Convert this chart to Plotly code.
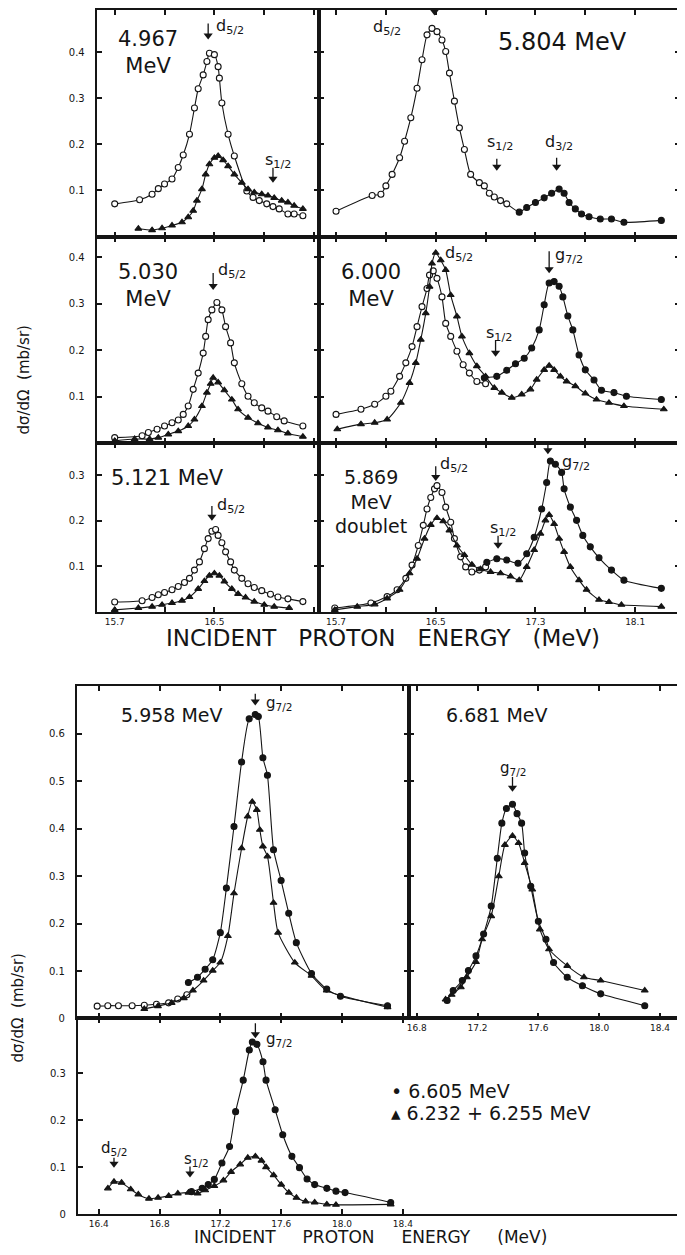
import plotly.graph_objects as go

OFF = 8                      # default page margin around the plot div
W, H = 685 - OFF, 1255 - OFF
INK = "#151515"
FONT = "DejaVu Sans"

# ---------------- data: incident proton energy (MeV), dsigma/dOmega (mb/sr) ----------------
# 4.967 MeV
a_open_x = [15.70, 15.90, 16.00, 16.05, 16.10, 16.16, 16.21, 16.25, 16.30, 16.34, 16.37, 16.41, 16.44, 16.46,
            16.50, 16.53, 16.54, 16.56, 16.61, 16.66, 16.76, 16.81, 16.86, 16.92, 16.97, 17.02, 17.09, 17.14, 17.21]
a_open_y = [0.071, 0.080, 0.092, 0.104, 0.114, 0.125, 0.150, 0.177, 0.222, 0.279, 0.321, 0.351, 0.380, 0.398,
            0.395, 0.369, 0.344, 0.290, 0.222, 0.175, 0.099, 0.085, 0.078, 0.071, 0.065, 0.060, 0.049, 0.049, 0.045]
a_tri_x = [15.89, 16.00, 16.08, 16.16, 16.24, 16.29, 16.33, 16.36, 16.40, 16.43, 16.46, 16.50, 16.53, 16.57,
           16.61, 16.66, 16.72, 16.77, 16.82, 16.88, 16.93, 16.98, 17.04, 17.09, 17.14, 17.21]
a_tri_y = [0.017, 0.014, 0.018, 0.024, 0.031, 0.042, 0.056, 0.078, 0.103, 0.135, 0.157, 0.171, 0.175, 0.166,
           0.153, 0.135, 0.117, 0.103, 0.096, 0.092, 0.089, 0.084, 0.078, 0.074, 0.067, 0.060]

# 5.804 MeV
b_open_x = [15.70, 15.99, 16.06, 16.10, 16.15, 16.21, 16.25, 16.30, 16.35, 16.39, 16.43, 16.47, 16.51, 16.55,
            16.58, 16.61, 16.65, 16.69, 16.73, 16.78, 16.85, 16.89, 16.93, 16.97, 17.02, 17.07]
b_open_y = [0.055, 0.089, 0.092, 0.110, 0.135, 0.171, 0.207, 0.258, 0.322, 0.384, 0.438, 0.452, 0.445, 0.427,
            0.402, 0.355, 0.294, 0.236, 0.189, 0.135, 0.117, 0.110, 0.094, 0.086, 0.078, 0.071]
b_fill_x = [17.17, 17.23, 17.30, 17.37, 17.43, 17.49, 17.53, 17.57, 17.62, 17.67, 17.73, 17.82, 17.91, 18.01, 18.31]
b_fill_y = [0.053, 0.063, 0.074, 0.084, 0.094, 0.103, 0.094, 0.074, 0.060, 0.049, 0.043, 0.038, 0.038, 0.031, 0.035]

# 5.030 MeV
c_open_x = [15.70, 15.92, 15.97, 16.04, 16.10, 16.16, 16.21, 16.25, 16.29, 16.33, 16.37, 16.41, 16.43, 16.45,
            16.48, 16.52, 16.56, 16.59, 16.63, 16.66, 16.72, 16.77, 16.82, 16.88, 16.93, 17.00, 17.06, 17.21]
c_open_y = [0.012, 0.016, 0.023, 0.030, 0.037, 0.044, 0.050, 0.062, 0.080, 0.116, 0.151, 0.194, 0.230, 0.266,
            0.287, 0.303, 0.287, 0.251, 0.216, 0.173, 0.128, 0.101, 0.087, 0.076, 0.069, 0.057, 0.048, 0.037]
c_tri_x = [15.70, 15.86, 15.98, 16.05, 16.13, 16.21, 16.29, 16.34, 16.40, 16.44, 16.47, 16.49, 16.53, 16.58,
           16.64, 16.69, 16.77, 16.85, 16.93, 17.01, 17.09, 17.21]
c_tri_y = [0.005, 0.009, 0.009, 0.012, 0.019, 0.026, 0.037, 0.051, 0.080, 0.109, 0.128, 0.141, 0.131, 0.114,
           0.094, 0.073, 0.055, 0.043, 0.034, 0.028, 0.021, 0.014]

# 6.000 MeV
d_open_x = [15.70, 15.90, 16.01, 16.10, 16.14, 16.21, 16.26, 16.31, 16.35, 16.39, 16.43, 16.45, 16.48, 16.51,
            16.55, 16.58, 16.62, 16.67, 16.72, 16.77, 16.83, 16.90]
d_open_y = [0.062, 0.073, 0.084, 0.101, 0.112, 0.144, 0.173, 0.208, 0.251, 0.294, 0.333, 0.362, 0.371, 0.355,
            0.315, 0.258, 0.230, 0.198, 0.169, 0.151, 0.133, 0.128]
d_tri_x = [15.71, 15.90, 16.01, 16.11, 16.22, 16.29, 16.34, 16.38, 16.42, 16.45, 16.47, 16.50, 16.54, 16.58,
           16.62, 16.67, 16.71, 16.77, 16.83, 16.90, 16.97, 17.03, 17.11, 17.19, 17.26, 17.31, 17.37, 17.41,
           17.45, 17.50, 17.55, 17.62, 17.70, 17.79, 17.89, 18.01, 18.33]
d_tri_y = [0.030, 0.041, 0.044, 0.051, 0.087, 0.130, 0.173, 0.223, 0.280, 0.337, 0.387, 0.410, 0.394, 0.373,
           0.319, 0.273, 0.230, 0.194, 0.166, 0.144, 0.119, 0.109, 0.098, 0.105, 0.116, 0.137, 0.158, 0.167,
           0.158, 0.144, 0.133, 0.123, 0.107, 0.094, 0.087, 0.080, 0.073]
d_fill_x = [16.89, 16.99, 17.07, 17.14, 17.21, 17.27, 17.33, 17.37, 17.41, 17.45, 17.49, 17.52, 17.56, 17.60,
            17.65, 17.70, 17.77, 17.83, 17.93, 18.03, 18.31]
d_fill_y = [0.141, 0.144, 0.157, 0.171, 0.183, 0.205, 0.244, 0.298, 0.345, 0.348, 0.338, 0.315, 0.274, 0.244,
            0.190, 0.158, 0.136, 0.114, 0.109, 0.101, 0.094]

# 5.121 MeV
e_open_x = [15.70, 15.92, 16.00, 16.05, 16.10, 16.16, 16.21, 16.26, 16.30, 16.34, 16.38, 16.42, 16.45, 16.48,
            16.51, 16.53, 16.56, 16.59, 16.63, 16.66, 16.72, 16.77, 16.82, 16.88, 16.95, 17.01, 17.09, 17.21]
e_open_y = [0.022, 0.025, 0.032, 0.038, 0.043, 0.049, 0.056, 0.065, 0.074, 0.092, 0.110, 0.139, 0.161, 0.177,
            0.181, 0.168, 0.152, 0.132, 0.110, 0.092, 0.074, 0.062, 0.054, 0.047, 0.039, 0.033, 0.029, 0.023]
e_tri_x = [15.70, 15.89, 16.00, 16.08, 16.16, 16.24, 16.30, 16.37, 16.42, 16.46, 16.50, 16.54, 16.58, 16.64,
           16.69, 16.75, 16.82, 16.90, 16.98, 17.10]
e_tri_y = [0.005, 0.009, 0.012, 0.016, 0.020, 0.025, 0.033, 0.051, 0.068, 0.080, 0.085, 0.080, 0.067, 0.051,
           0.040, 0.032, 0.023, 0.016, 0.012, 0.009]

# 5.869 MeV doublet
f_open_x = [15.69, 15.98, 16.11, 16.19, 16.26, 16.31, 16.36, 16.40, 16.43, 16.46, 16.49, 16.51, 16.55, 16.58,
            16.62, 16.65, 16.70, 16.74, 16.79, 16.85, 16.90]
f_open_y = [0.009, 0.020, 0.034, 0.049, 0.074, 0.103, 0.146, 0.190, 0.226, 0.251, 0.270, 0.277, 0.262, 0.230,
            0.197, 0.161, 0.121, 0.099, 0.088, 0.092, 0.099]
f_tri_x = [15.69, 15.87, 16.01, 16.11, 16.21, 16.29, 16.35, 16.41, 16.46, 16.51, 16.56, 16.61, 16.67, 16.73,
           16.79, 16.86, 16.94, 17.02, 17.10, 17.17, 17.23, 17.29, 17.34, 17.38, 17.41, 17.45, 17.49, 17.53,
           17.58, 17.65, 17.71, 17.81, 17.89, 17.99, 18.31]
f_tri_y = [0.005, 0.012, 0.017, 0.030, 0.049, 0.085, 0.117, 0.161, 0.191, 0.206, 0.199, 0.179, 0.146, 0.125,
           0.104, 0.094, 0.088, 0.085, 0.078, 0.070, 0.099, 0.136, 0.172, 0.201, 0.213, 0.193, 0.161, 0.132,
           0.099, 0.070, 0.049, 0.027, 0.022, 0.016, 0.012]
f_fill_x = [16.91, 16.99, 17.07, 17.16, 17.23, 17.29, 17.35, 17.39, 17.42, 17.46, 17.51, 17.53, 17.58, 17.63,
            17.68, 17.74, 17.81, 17.91, 18.01, 18.31]
f_fill_y = [0.109, 0.117, 0.114, 0.107, 0.128, 0.164, 0.226, 0.284, 0.331, 0.324, 0.306, 0.270, 0.230, 0.201,
            0.168, 0.143, 0.119, 0.092, 0.070, 0.052]

# 5.958 MeV
g_open_x = [16.39, 16.46, 16.53, 16.62, 16.70, 16.78, 16.86, 16.92, 16.98]
g_open_y = [0.026, 0.027, 0.027, 0.027, 0.028, 0.030, 0.033, 0.041, 0.050]
g_fill_x = [16.99, 17.05, 17.10, 17.15, 17.20, 17.24, 17.29, 17.34, 17.39, 17.43, 17.45, 17.48, 17.51, 17.55,
            17.60, 17.65, 17.70, 17.80, 17.90, 17.99, 18.30]
g_fill_y = [0.076, 0.087, 0.104, 0.124, 0.181, 0.275, 0.405, 0.541, 0.632, 0.641, 0.637, 0.550, 0.513, 0.356,
            0.291, 0.222, 0.160, 0.095, 0.062, 0.047, 0.027]
g_tri_x = [16.70, 16.79, 16.88, 16.96, 17.02, 17.09, 17.15, 17.20, 17.25, 17.29, 17.34, 17.38, 17.41, 17.44,
           17.46, 17.48, 17.51, 17.55, 17.58, 17.69, 17.80, 17.90, 18.30]
g_tri_y = [0.020, 0.026, 0.033, 0.043, 0.059, 0.080, 0.101, 0.118, 0.174, 0.264, 0.359, 0.426, 0.457, 0.440,
           0.398, 0.363, 0.342, 0.244, 0.181, 0.118, 0.090, 0.059, 0.024]

# 6.681 MeV
h_fill_x = [17.00, 17.04, 17.10, 17.14, 17.19, 17.24, 17.29, 17.33, 17.36, 17.39, 17.43, 17.46, 17.49, 17.51,
            17.55, 17.60, 17.65, 17.70, 17.79, 17.89, 18.01, 18.30]
h_fill_y = [0.038, 0.059, 0.080, 0.101, 0.132, 0.178, 0.237, 0.338, 0.412, 0.443, 0.452, 0.432, 0.412, 0.349,
            0.279, 0.205, 0.167, 0.118, 0.087, 0.069, 0.052, 0.027]
h_tri_x = [16.99, 17.03, 17.09, 17.13, 17.19, 17.23, 17.29, 17.34, 17.38, 17.43, 17.47, 17.51, 17.56, 17.61,
           17.67, 17.79, 17.90, 18.01, 18.30]
h_tri_y = [0.040, 0.050, 0.066, 0.087, 0.119, 0.167, 0.216, 0.300, 0.366, 0.385, 0.370, 0.328, 0.272, 0.188,
           0.146, 0.111, 0.087, 0.080, 0.059]

# 6.605 MeV and 6.232 + 6.255 MeV
i_fill_x = [17.01, 17.08, 17.12, 17.16, 17.21, 17.26, 17.30, 17.35, 17.39, 17.41, 17.44, 17.48, 17.50, 17.56,
            17.61, 17.67, 17.72, 17.77, 17.82, 17.90, 17.96, 18.02, 18.32]
i_fill_y = [0.048, 0.055, 0.063, 0.074, 0.109, 0.144, 0.218, 0.285, 0.349, 0.366, 0.361, 0.324, 0.285, 0.222,
            0.169, 0.123, 0.099, 0.075, 0.063, 0.055, 0.049, 0.046, 0.025]
i_tri_x = [16.46, 16.50, 16.55, 16.61, 16.66, 16.73, 16.79, 16.86, 16.92, 16.99, 17.05, 17.10, 17.16, 17.22,
           17.27, 17.33, 17.38, 17.43, 17.47, 17.50, 17.55, 17.60, 17.65, 17.70, 17.76, 17.82, 17.90, 17.96, 18.32]
i_tri_y = [0.055, 0.069, 0.067, 0.053, 0.042, 0.033, 0.035, 0.039, 0.044, 0.046, 0.044, 0.051, 0.060, 0.072,
           0.090, 0.106, 0.120, 0.123, 0.114, 0.100, 0.083, 0.063, 0.046, 0.035, 0.027, 0.025, 0.021, 0.020, 0.021]

# resonance markers: (panel, label, energy, tip height)
resonances = [
    (1, "d<sub>5/2</sub>", 16.45, 0.428), (1, "s<sub>1/2</sub>", 16.97, 0.117),
    (2, "d<sub>5/2</sub>", 16.49, 0.480), (2, "s<sub>1/2</sub>", 16.99, 0.143), (2, "d<sub>3/2</sub>", 17.47, 0.143),
    (3, "d<sub>5/2</sub>", 16.49, 0.330),
    (4, "d<sub>5/2</sub>", 16.48, 0.437), (4, "g<sub>7/2</sub>", 17.41, 0.366), (4, "s<sub>1/2</sub>", 16.98, 0.186),
    (5, "d<sub>5/2</sub>", 16.48, 0.200),
    (6, "d<sub>5/2</sub>", 16.50, 0.287), (6, "g<sub>7/2</sub>", 17.40, 0.346), (6, "s<sub>1/2</sub>", 17.00, 0.139),
    (7, "g<sub>7/2</sub>", 17.43, 0.660),
    (8, "g<sub>7/2</sub>", 17.43, 0.478),
    (9, "d<sub>5/2</sub>", 16.50, 0.099), (9, "s<sub>1/2</sub>", 17.00, 0.078), (9, "g<sub>7/2</sub>", 17.43, 0.374),
]
# arrow length and label offset (px) for each resonance marker, same order
res_style = [
    (16, 6, 13), (15, -10, 22),
    (7, -63, -12), (12, -12, 28), (13, -14, 28),
    (17, 3, 19),
    (22, 10, -13), (22, 4, 18), (17, -12, 23),
    (15, 3, 15),
    (15, 2, 17), (25, 12, -8), (13, -10, 20),
    (12, 9, 2),
    (15, -14, 23),
    (10, -15, 19), (11, -8, 18), (15, 9, -1),
]

top_ticks_l = [15.7, 16.1, 16.5, 16.9, 17.3]
top_ticks_r = [15.7, 16.1, 16.5, 16.9, 17.3, 17.7, 18.1]
bot_ticks = [16.4, 16.8, 17.2, 17.6, 18.0, 18.4]


def px_x(a, b):
    return [(a - OFF) / W, (b - OFF) / W]


def px_y(top, bottom):
    return [1 - (bottom - OFF) / H, 1 - (top - OFF) / H]


def sid(i):
    return "" if i == 1 else str(i)


# panel frames (page px): x px, y px, x range, y range, labelled x ticks, unlabelled x ticks, y ticks, y labels
panels = {
    1: ((95, 318), (8, 236), [15.556, 17.34], [0, 0.492], [], top_ticks_l, [0.1, 0.2, 0.3, 0.4], True),
    2: ((318, 680), (8, 236), [15.564, 18.46], [0, 0.492], [], top_ticks_r, [0.1, 0.2, 0.3, 0.4], False),
    3: ((95, 318), (236, 444), [15.556, 17.34], [0, 0.445], [], top_ticks_l, [0.1, 0.2, 0.3, 0.4], True),
    4: ((318, 680), (236, 444), [15.564, 18.46], [0, 0.445], [], top_ticks_r, [0.1, 0.2, 0.3, 0.4], False),
    5: ((95, 318), (444, 614), [15.556, 17.34], [0, 0.370], [15.7, 16.5], [16.1, 16.9, 17.3],
        [0.1, 0.2, 0.3], True),
    6: ((318, 680), (444, 614), [15.564, 18.46], [0, 0.370], [15.7, 16.5, 17.3, 18.1], [16.1, 16.9, 17.7],
        [0.1, 0.2, 0.3], False),
    7: ((75, 408), (688, 1023), [16.256, 18.44], [0, 0.702], [], bot_ticks,
        [0, 0.1, 0.2, 0.3, 0.4, 0.5, 0.6], True),
    8: ((408, 682), (688, 1023), [16.748, 18.545], [0, 0.702], bot_ticks[1:], [],
        [0.1, 0.2, 0.3, 0.4, 0.5, 0.6], False),
    9: ((76, 682), (1023, 1220), [16.262, 20.236], [0, 0.416], bot_ticks, [], [0, 0.1, 0.2, 0.3], True),
}

fig = go.Figure()


def add_series(p, x, y, kind, lines=True):
    face = {"open": "white", "fill": INK, "tri": INK}[kind]
    symbol = "triangle-up" if kind == "tri" else "circle"
    fig.add_trace(go.Scatter(
        x=x, y=y, xaxis="x" + sid(p), yaxis="y" + sid(p),
        mode="lines+markers" if lines else "markers",
        line={"color": INK, "width": 1.1, "shape": "spline", "smoothing": 0.6},
        marker={"symbol": symbol, "size": 6, "color": face, "line": {"color": INK, "width": 1.1}},
        showlegend=False, hoverinfo="skip",
    ))


# 5.804: one continuous line through both sets
fig.add_trace(go.Scatter(x=b_open_x + b_fill_x, y=b_open_y + b_fill_y, xaxis="x2", yaxis="y2", mode="lines",
                         line={"color": INK, "width": 1.1, "shape": "spline", "smoothing": 0.6},
                         showlegend=False, hoverinfo="skip"))

add_series(1, a_open_x, a_open_y, "open")
add_series(1, a_tri_x, a_tri_y, "tri")
add_series(2, b_open_x, b_open_y, "open", lines=False)
add_series(2, b_fill_x, b_fill_y, "fill", lines=False)
add_series(3, c_open_x, c_open_y, "open")
add_series(3, c_tri_x, c_tri_y, "tri")
add_series(4, d_open_x, d_open_y, "open")
add_series(4, d_tri_x, d_tri_y, "tri")
add_series(4, d_fill_x, d_fill_y, "fill")
add_series(5, e_open_x, e_open_y, "open")
add_series(5, e_tri_x, e_tri_y, "tri")
add_series(6, f_open_x, f_open_y, "open")
add_series(6, f_tri_x, f_tri_y, "tri")
add_series(6, f_fill_x, f_fill_y, "fill")
add_series(7, g_open_x, g_open_y, "open")
add_series(7, g_tri_x, g_tri_y, "tri")
add_series(7, g_fill_x, g_fill_y, "fill")
add_series(8, h_tri_x, h_tri_y, "tri")
add_series(8, h_fill_x, h_fill_y, "fill")
add_series(9, i_tri_x, i_tri_y, "tri")
add_series(9, i_fill_x, i_fill_y, "fill")

tick_style = dict(ticks="inside", ticklen=5, tickwidth=1.5, tickcolor=INK)
layout = {}
for p, (xp, yp, xr, yr, xlab, xminor, yt, ylab) in panels.items():
    common = dict(showline=True, linewidth=2, linecolor=INK, mirror="ticks", showgrid=False, zeroline=False,
                  **tick_style)
    xa = dict(domain=px_x(*xp), range=xr, anchor="y" + sid(p),
              tickfont={"family": FONT, "size": 9, "color": INK}, **common)
    if xlab:
        xa.update(tickvals=xlab, ticktext=[f"{v:.1f}" for v in xlab])
    else:
        xa.update(tickvals=xminor, showticklabels=False)
    if xlab and xminor:
        xa["minor"] = dict(tickvals=xminor, showgrid=False, **tick_style)
    layout["xaxis" + sid(p)] = xa
    layout["yaxis" + sid(p)] = dict(domain=px_y(*yp), range=yr, anchor="x" + sid(p), tickvals=yt,
                                    ticktext=[("0" if v == 0 else f"{v:.1f}") for v in yt],
                                    showticklabels=ylab, ticklabelstandoff=8,
                                    tickfont={"family": FONT, "size": 10, "color": INK}, **common)

# resonance arrows: a short stem plus a filled head, sized in pixels
ann = []
for (p, lab, ex, ey), (ln, dx, dy) in zip(resonances, res_style):
    xp, yp, xr, yr = panels[p][:4]
    ppu = (yp[1] - yp[0]) / (yr[1] - yr[0])
    fig.add_trace(go.Scatter(x=[ex, ex], y=[ey + ln / ppu, ey + 5 / ppu], xaxis="x" + sid(p), yaxis="y" + sid(p),
                             mode="lines", line={"color": INK, "width": 1.3},
                             showlegend=False, hoverinfo="skip", cliponaxis=False))
    fig.add_trace(go.Scatter(x=[ex], y=[ey + 4 / ppu], xaxis="x" + sid(p), yaxis="y" + sid(p),
                             mode="markers", marker={"symbol": "triangle-down", "size": 8, "color": INK},
                             showlegend=False, hoverinfo="skip", cliponaxis=False))
    ann.append(dict(x=ex, y=ey, xref="x" + sid(p), yref="y" + sid(p), text=lab, showarrow=False,
                    xanchor="left", yanchor="middle", xshift=dx, yshift=dy,
                    font={"family": FONT, "size": 16 if p <= 6 else 15, "color": INK}))


def label(text, cx, cy, size, anchor="center", yanchor="middle"):
    ann.append(dict(x=(cx - OFF) / W, y=1 - (cy - OFF) / H, xref="paper", yref="paper", text=text,
                    showarrow=False, xanchor=anchor, yanchor=yanchor, align="center",
                    font={"family": FONT, "size": size, "color": INK}))


label("4.967<br>MeV", 146, 51, 21)
label("5.804 MeV", 562, 40, 24)
label("5.030<br>MeV", 146, 285, 21)
label("6.000<br>MeV", 370, 285, 21)
label("5.121 MeV", 166, 479, 21)
label("5.869<br>MeV<br>doublet", 370, 503, 19)
label("5.958 MeV", 170, 718, 19)
label("6.681 MeV", 496, 718, 19)

words = ["INCIDENT", "PROTON", "ENERGY", "(MeV)"]
label(("\u00a0" * 3).join(words), 382, 640, 23)
label(("\u00a0" * 5).join(words), 370, 1255, 17, yanchor="bottom")

label("\u2022 6.605 MeV", 388, 1096, 19, anchor="left")
label("\u25b4 6.232 + 6.255 MeV", 388, 1118, 19, anchor="left")

for cx, cy in [(22, 380), (16, 1012)]:
    ann.append(dict(x=(cx - OFF) / W, y=1 - (cy - OFF) / H, xref="paper", yref="paper",
                    text="d\u03c3/d\u03a9  (mb/sr)", showarrow=False, textangle=-90,
                    xanchor="center", yanchor="middle", font={"family": FONT, "size": 15, "color": INK}))

fig.update_layout(
    width=W, height=H,
    margin={"l": 0, "r": 0, "t": 0, "b": 0},
    paper_bgcolor="white", plot_bgcolor="white",
    showlegend=False,
    annotations=ann,
    **layout,
)

fig.write_html("out.html")
